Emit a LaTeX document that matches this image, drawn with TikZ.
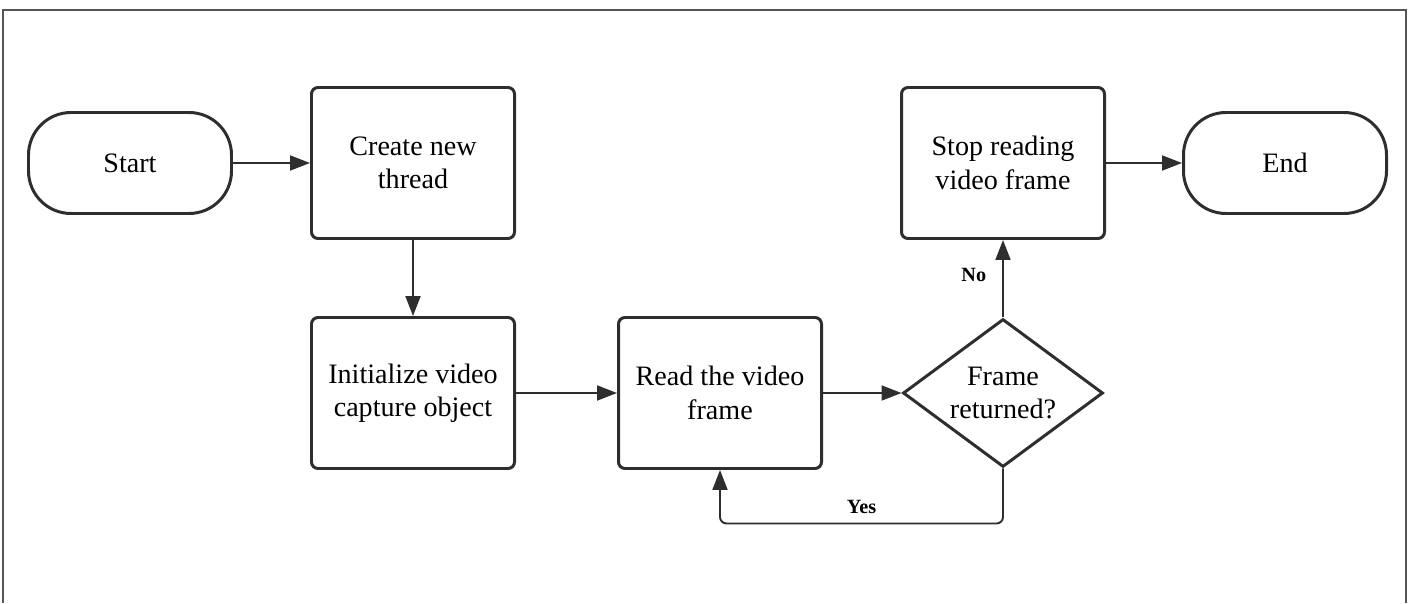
\documentclass[tikz,border=0pt]{standalone}
\usepackage{fontspec}
\setmainfont{Liberation Serif}
\usetikzlibrary{shapes.geometric, arrows.meta}
\definecolor{ink}{HTML}{2E2E2E}
\definecolor{framegray}{HTML}{555555}

\begin{document}
\begin{tikzpicture}[
    box/.style={draw=ink, line width=1.7pt, rectangle, rounded corners=0.13cm,
        minimum width=4.06cm, minimum height=3.02cm, align=center, text=black,
        font=\fontsize{16}{19}\selectfont},
    term/.style={box, rounded corners=0.85cm, minimum height=2.02cm},
    decide/.style={draw=ink, line width=1.7pt, diamond, aspect=1.35, inner sep=0pt,
        minimum width=4.0cm, minimum height=2.96cm, align=center, text=black,
        font=\fontsize{16}{19}\selectfont},
    flow/.style={draw=ink, line width=1.1pt, -{Triangle[length=0.4cm,width=0.3cm]}},
    answer/.style={font=\fontsize{11.5}{13}\bfseries\selectfont, text=black}
]
\useasboundingbox (0,0) rectangle (28.26,12.06);
\draw[framegray, line width=0.8pt] (0.06,0) -- (0.06,11.86) -- (28.12,11.86) -- (28.12,0);

\node[term] (start) at (2.6,8.8) {Start};
\node[box] (create) at (8.26,8.8) {Create new\\thread};
\node[box] (init) at (8.26,4.2) {Initialize video\\capture object};
\node[box] (read) at (14.4,4.2) {Read the video\\frame};
\node[decide] (check) at (20.06,4.2) {Frame\\returned?};
\node[box] (stop) at (20.06,8.8) {Stop reading\\video frame};
\node[term] (end) at (25.7,8.8) {End};

\draw[flow] (start) -- (create);
\draw[flow] (create) -- (init);
\draw[flow] (init) -- (read);
\draw[flow] (read) -- (check);
\draw[flow] (check) -- node[answer, left=0.2cm, pos=0.55] {No} (stop);
\draw[flow, rounded corners=0.13cm] (check.south) -- ++(0,-1.1) -| node[answer, above=0.05cm, pos=0.25] {Yes} (read.south);
\draw[flow] (stop) -- (end);
\end{tikzpicture}
\end{document}
